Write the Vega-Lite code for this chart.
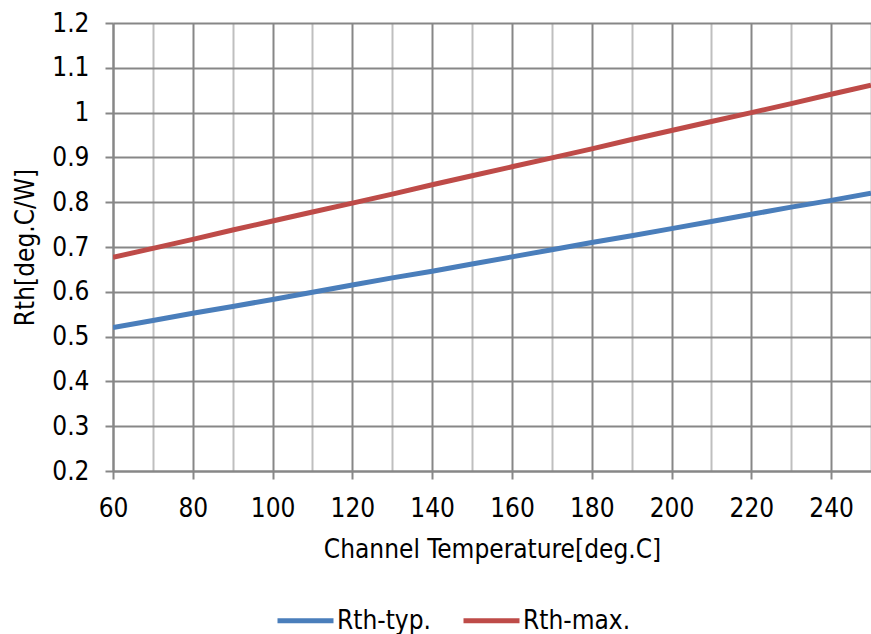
{
  "$schema": "https://vega.github.io/schema/vega-lite/v6.json",
  "autosize": "none",
  "width": 758,
  "height": 448,
  "padding": {"left": 113, "top": 23, "right": 0, "bottom": 163},
  "background": "white",
  "config": {
    "view": {"stroke": null},
    "font": "DejaVu Sans Condensed, Liberation Sans, sans-serif"
  },
  "data": {
    "values": [
      {"T": 60, "s": "Rth-typ.", "R": 0.520}, {"T": 70, "s": "Rth-typ.", "R": 0.536},
      {"T": 80, "s": "Rth-typ.", "R": 0.552}, {"T": 90, "s": "Rth-typ.", "R": 0.567},
      {"T": 100, "s": "Rth-typ.", "R": 0.583}, {"T": 110, "s": "Rth-typ.", "R": 0.599},
      {"T": 120, "s": "Rth-typ.", "R": 0.615}, {"T": 130, "s": "Rth-typ.", "R": 0.631},
      {"T": 140, "s": "Rth-typ.", "R": 0.646}, {"T": 150, "s": "Rth-typ.", "R": 0.662},
      {"T": 160, "s": "Rth-typ.", "R": 0.678}, {"T": 170, "s": "Rth-typ.", "R": 0.694},
      {"T": 180, "s": "Rth-typ.", "R": 0.710}, {"T": 190, "s": "Rth-typ.", "R": 0.725},
      {"T": 200, "s": "Rth-typ.", "R": 0.741}, {"T": 210, "s": "Rth-typ.", "R": 0.757},
      {"T": 220, "s": "Rth-typ.", "R": 0.773}, {"T": 230, "s": "Rth-typ.", "R": 0.789},
      {"T": 240, "s": "Rth-typ.", "R": 0.804}, {"T": 250, "s": "Rth-typ.", "R": 0.820},
      {"T": 60, "s": "Rth-max.", "R": 0.677}, {"T": 70, "s": "Rth-max.", "R": 0.697},
      {"T": 80, "s": "Rth-max.", "R": 0.717}, {"T": 90, "s": "Rth-max.", "R": 0.738},
      {"T": 100, "s": "Rth-max.", "R": 0.758}, {"T": 110, "s": "Rth-max.", "R": 0.778},
      {"T": 120, "s": "Rth-max.", "R": 0.798}, {"T": 130, "s": "Rth-max.", "R": 0.818},
      {"T": 140, "s": "Rth-max.", "R": 0.839}, {"T": 150, "s": "Rth-max.", "R": 0.859},
      {"T": 160, "s": "Rth-max.", "R": 0.879}, {"T": 170, "s": "Rth-max.", "R": 0.899},
      {"T": 180, "s": "Rth-max.", "R": 0.919}, {"T": 190, "s": "Rth-max.", "R": 0.940},
      {"T": 200, "s": "Rth-max.", "R": 0.960}, {"T": 210, "s": "Rth-max.", "R": 0.980},
      {"T": 220, "s": "Rth-max.", "R": 1.000}, {"T": 230, "s": "Rth-max.", "R": 1.020},
      {"T": 240, "s": "Rth-max.", "R": 1.041}, {"T": 250, "s": "Rth-max.", "R": 1.061}
    ]
  },
  "mark": {"type": "line", "strokeWidth": 5, "clip": true},
  "encoding": {
    "x": {
      "field": "T", "type": "quantitative",
      "scale": {"domain": [60, 250], "nice": false, "zero": false},
      "axis": {
        "title": "Channel Temperature[deg.C]",
        "values": [60, 70, 80, 90, 100, 110, 120, 130, 140, 150, 160, 170, 180, 190, 200, 210, 220, 230, 240, 250],
        "labelExpr": "datum.value % 20 === 0 ? datum.label : ''",
        "labelFontSize": 26, "labelColor": "#000000", "labelPadding": 16,
        "labelFlush": false, "labelOverlap": false,
        "tickSize": 8,
        "tickColor": {"condition": {"test": "datum.value % 20 === 0", "value": "#878787"}, "value": "rgba(0,0,0,0)"},
        "tickWidth": 2,
        "grid": true,
        "gridColor": {"condition": {"test": "datum.value % 20 === 0", "value": "#878787"}, "value": "#bfbfbf"},
        "gridWidth": 2, "gridOpacity": 1,
        "domainColor": "#878787", "domainWidth": 2,
        "titleFontSize": 26, "titleFontWeight": "normal", "titleColor": "#000000", "titlePadding": 15
      }
    },
    "y": {
      "field": "R", "type": "quantitative",
      "scale": {"domain": [0.2, 1.2], "nice": false, "zero": false},
      "axis": {
        "title": "Rth[deg.C/W]",
        "values": [0.2, 0.3, 0.4, 0.5, 0.6, 0.7, 0.8, 0.9, 1.0, 1.1, 1.2],
        "format": ".1~f",
        "labelFontSize": 26, "labelColor": "#000000", "labelPadding": 16,
        "labelFlush": false, "labelOverlap": false,
        "tickSize": 8, "tickColor": "#878787", "tickWidth": 2,
        "grid": true, "gridColor": "#878787", "gridWidth": 2, "gridOpacity": 1,
        "domainColor": "#878787", "domainWidth": 2,
        "titleFontSize": 26, "titleFontWeight": "normal", "titleColor": "#000000", "titlePadding": 13
      }
    },
    "color": {
      "field": "s", "type": "nominal",
      "scale": {"domain": ["Rth-typ.", "Rth-max."], "range": ["#4a7ebb", "#be4b48"]},
      "legend": {
        "title": null,
        "orient": "none",
        "direction": "horizontal",
        "legendX": 162,
        "legendY": 567,
        "symbolType": "stroke",
        "symbolSize": 3136,
        "symbolStrokeWidth": 5,
        "labelFontSize": 26,
        "labelColor": "#000000",
        "labelOffset": 1,
        "columnPadding": 22
      }
    }
  }
}
